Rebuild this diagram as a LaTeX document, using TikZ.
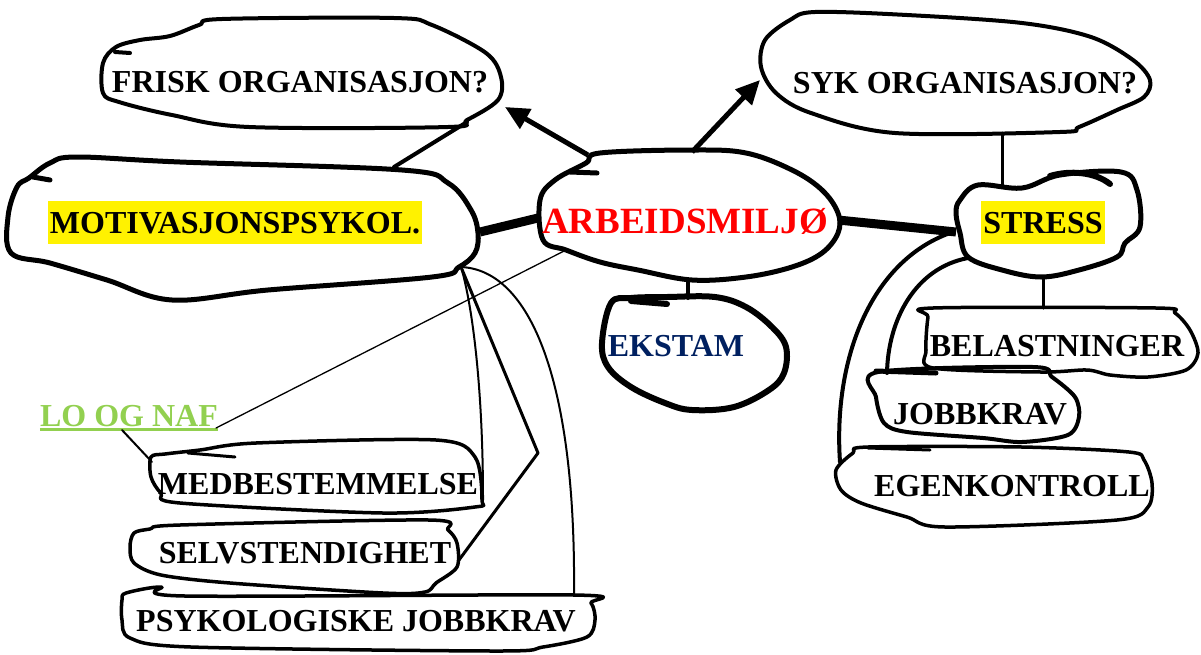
\documentclass[tikz,border=0pt]{standalone}
\usepackage{fontspec}
\setmainfont{Liberation Serif}
\usetikzlibrary{arrows.meta}
\definecolor{navy}{RGB}{0,32,96}
\definecolor{lgreen}{RGB}{146,208,80}
\begin{document}
\begin{tikzpicture}[x=1pt,y=-1pt,
  outline/.style={line width=#1, line join=round, line cap=round},
  outline/.default=4pt,
  lbl/.style={font=\fontsize{32}{36}\selectfont\bfseries, inner sep=0pt, text height=33pt, text depth=10pt},
  hl/.style={lbl, fill=yellow, inner xsep=2pt},
  conn/.style={line width=#1, line cap=round},
  conn/.default=2pt,
  bigarrow/.style={line width=5pt, -{Triangle[length=24pt,width=22pt]}}
]
\useasboundingbox (0,0) rectangle (1201,654);

% ---- blobs ----
\draw[outline=4pt] plot[smooth cycle, tension=0.55] coordinates {(103,63) (116,47) (140,40) (170,36) (199,25) (222,19) (394,18) (432,25) (486,53) (501,77) (498,100) (467,120) (448,127) (249,127) (172,115) (119,102) (103,93)};
\draw[outline=4pt] (115,52) -- (130,53);

\draw[outline=5pt] plot[smooth cycle, tension=0.6] coordinates {(11,253) (8,217) (17,187) (29,178) (50,163) (77,157) (180,162) (402,170) (448,183) (471,210) (478,233) (475,253) (459,267) (432,277) (268,290) (172,300) (107,280) (50,263)};
\draw[outline=5pt] (33,177) -- (50,180);

\draw[outline=5pt] plot[smooth cycle, tension=0.6] coordinates {(586,163) (600,153) (692,150) (746,153) (792,170) (822,190) (838,213) (838,233) (822,253) (792,267) (746,277) (692,280) (638,270) (600,262) (566,250) (543,240) (540,200) (555,180)};
\draw[outline=5pt] (570,172) -- (597,173);

\draw[outline=4pt] plot[smooth cycle, tension=0.55] coordinates {(765,40) (790,20) (815,12) (907,15) (1022,23) (1091,37) (1133,60) (1150,80) (1144,97) (1117,110) (1079,127) (1060,132) (895,133) (811,113) (776,93) (761,67)};

\draw[outline=5pt] plot[smooth cycle, tension=0.6] coordinates {(956,213) (960,200) (978,185) (1022,188) (1060,175) (1121,172) (1137,190) (1140,227) (1125,243) (1117,257) (1079,270) (1041,277) (1002,270) (968,257) (960,233)};
\draw[outline=6pt] (1050,176) .. controls (1070,170) and (1095,172) .. (1110,184);

\draw[outline=6pt] plot[smooth cycle, tension=0.6] coordinates {(602,343) (608,367) (631,387) (665,403) (692,410) (734,407) (769,390) (784,373) (786,347) (772,327) (746,307) (715,297) (667,297) (631,298) (611,303)};
\draw[outline=6pt] (631,301) -- (667,304);

\draw[outline=3.5pt] plot[smooth cycle, tension=0.5] coordinates {(933,308) (1156,308) (1175,313) (1190,330) (1198,353) (1186,370) (1148,377) (1110,375) (1087,370) (1041,372) (933,368) (926,350) (928,317)};

\draw[outline=4pt] plot[smooth cycle, tension=0.5] coordinates {(878,372) (1033,367) (1052,377) (1075,397) (1079,417) (1068,435) (1022,442) (983,438) (907,432) (884,423) (876,397)};
\draw[outline=5pt] (876,371) -- (936,373);

\draw[outline=3.5pt] plot[smooth cycle, tension=0.5] coordinates {(868,447) (1022,447) (1129,452) (1144,460) (1152,483) (1148,507) (1117,520) (945,527) (907,517) (861,503) (841,490) (836,470) (853,453)};
\draw[outline=3pt] (868,448) -- (930,450);

\draw[outline=3.5pt] plot[smooth cycle, tension=0.5] coordinates {(151,457) (165,454) (200,450) (256,443) (436,440) (475,457) (482,500) (475,507) (383,513) (180,503) (161,493) (151,477)};
\draw[outline=3pt] (188,453) -- (235,457);

\draw[outline=3.5pt] plot[smooth cycle, tension=0.5] coordinates {(134,533) (150,529) (180,525) (429,520) (448,530) (457,543) (457,567) (436,583) (425,592) (383,593) (230,583) (161,575) (134,563) (130,547)};

\draw[outline=3.5pt] plot[smooth cycle, tension=0.5] coordinates {(126,593) (161,587) (185,596) (574,595) (591,603) (595,620) (587,637) (543,647) (497,651) (191,647) (130,638) (122,620) (122,600)};

% ---- labels ----
\node[lbl] (frisk) at (300,81) {FRISK ORGANISASJON?};
\node[hl] (motiv) at (235,222) {MOTIVASJONSPSYKOL.};
\node[lbl, font=\fontsize{37}{40}\selectfont\bfseries, text=red] (arb) at (685,222) {ARBEIDSMILJØ};
\node[lbl] (syk) at (965,82) {SYK ORGANISASJON?};
\node[hl] (stress) at (1043,222) {STRESS};
\node[lbl, text=navy] (ekstam) at (676,345) {EKSTAM};
\node[lbl] (belast) at (1057,345) {BELASTNINGER};
\node[lbl] (jobb) at (980,413) {JOBBKRAV};
\node[lbl] (egen) at (1012,485) {EGENKONTROLL};
\node[lbl, text=lgreen, text height=22pt, text depth=0pt] (lo) at (129,415) {LO OG NAF};
\node[lbl] (medb) at (318,483) {MEDBESTEMMELSE};
\node[lbl] (selv) at (305,552) {SELVSTENDIGHET};
\node[lbl] (psyk) at (356,620) {PSYKOLOGISKE JOBBKRAV};
\draw[lgreen, line width=3pt] ([yshift=-3pt]lo.south west) -- ([yshift=-3pt]lo.south east);

% ---- connector end points ----
\coordinate (friskB) at (467,122);
\coordinate (motivT) at (394,167);
\coordinate (motivR) at (480,232);
\coordinate (motivBR) at (461,267);
\coordinate (arbL) at (538,218);
\coordinate (arbTL) at (588,155);
\coordinate (arbT) at (692,152);
\coordinate (arbR) at (838,220);
\coordinate (arbB) at (688,280);
\coordinate (arbBL) at (566,250);
\coordinate (friskTip) at (505,107);
\coordinate (sykTip) at (760,80);
\coordinate (sykB) at (1002,133);
\coordinate (stressT) at (1002,186);
\coordinate (stressL) at (956,232);
\coordinate (stressLL) at (950,233);
\coordinate (stressBL) at (968,258);
\coordinate (stressB) at (1043,278);
\coordinate (belastT) at (1043,308);
\coordinate (ekstamT) at (688,298);
\coordinate (egenL) at (840,462);
\coordinate (jobbTL) at (887,373);
\coordinate (loR) at (216,428);
\coordinate (loL) at (122,430);
\coordinate (medbL) at (152,462);
\coordinate (medbR) at (483,500);
\coordinate (knee) at (538,453);
\coordinate (selvR) at (459,560);
\coordinate (psykR) at (574,594);

% ---- connectors ----
\draw[conn=4pt] (motivT) -- (friskB);
\draw[conn=9pt, line cap=butt] (motivR) -- (arbL);
\draw[bigarrow] (arbTL) -- (friskTip);
\draw[bigarrow] (arbT) -- (sykTip);
\draw[conn=3pt] (sykB) -- (stressT);
\draw[conn=9pt, line cap=butt] (arbR) -- (stressL);
\draw[conn=4pt] (arbB) -- (ekstamT);
\draw[conn=3pt] (stressB) -- (belastT);
\draw[conn=4pt] (stressLL) .. controls (870,262) and (833,360) .. (egenL);
\draw[conn=4pt] (stressBL) .. controls (915,268) and (888,320) .. (jobbTL);
\draw[conn=1.3pt] (arbBL) -- (loR);
\draw[conn=2pt] (loL) -- (medbL);
\draw[conn=2pt] (motivBR) .. controls (471,300) and (483,380) .. (medbR);
\draw[conn=3pt, line join=round] (motivBR) -- (knee) -- (selvR);
\draw[conn=2pt] (motivBR) .. controls (530,270) and (576,380) .. (psykR);
\end{tikzpicture}
\end{document}
